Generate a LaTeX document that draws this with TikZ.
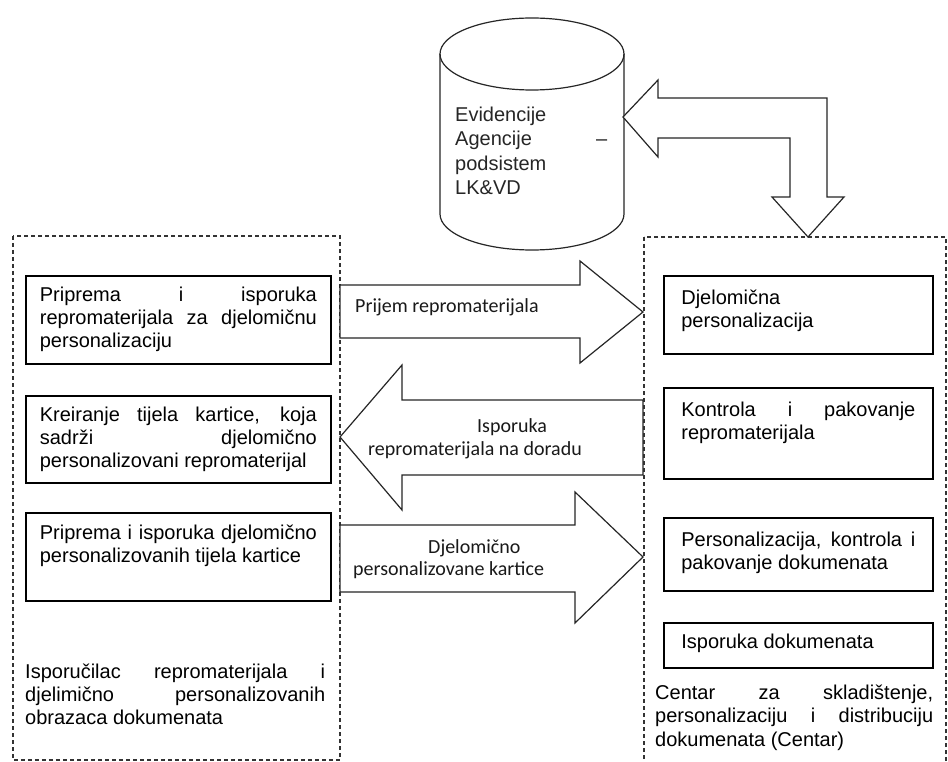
\documentclass[tikz,border=0pt]{standalone}
\usepackage{fontspec}
\setmainfont{Liberation Sans}
\newfontfamily\lblfont{Carlito}
\newcommand\tb[5]{\parbox[c][#2pt][t]{#1pt}{\hyphenpenalty=10000\exhyphenpenalty=10000\tolerance=10000\hbadness=10000\baselineskip=#3pt\relax\rule{0pt}{#4pt}#5\par}}
\begin{document}
\begin{tikzpicture}[x=1pt,y=-1pt,
  procbox/.style={draw=black, line width=1.7pt, inner sep=0pt, anchor=north west, font=\fontsize{20}{23}\selectfont},
  plaintxt/.style={inner sep=0pt, anchor=north west, font=\fontsize{20}{23}\selectfont},
  dbtxt/.style={inner sep=0pt, anchor=north west, font=\fontsize{20}{23}\selectfont, text=black!85},
  zone/.style={draw=black!80, line width=1.1pt, dash pattern=on 4pt off 3pt},
  blockarrow/.style={draw=black!85, fill=white, line width=1.2pt, line join=miter},
  cyl/.style={draw=black!85, line width=1.2pt},
  lbl/.style={inner sep=0pt, anchor=base west, font=\lblfont\fontsize{20}{22}\selectfont, text=black!90}]
\useasboundingbox (0,0) rectangle (948,762);
\fill[white] (0,0) rectangle (948,762);

% zones
\draw[zone] (13,236) rectangle (340,760);
\draw[zone] (644,237) rectangle (946,775);

% database cylinder
\draw[cyl, fill=white] (440,54) -- (440,214) arc[start angle=180, end angle=360, x radius=92pt, y radius=36pt] -- (624,54);
\draw[cyl] (532,54) ellipse [x radius=92pt, y radius=36pt];
\node[dbtxt] (db) at (455,95) {\tb{152}{110}{24.5}{26}{Evidencije\\Agencije\hfill –\\podsistem\\LK\&VD}};

% bent double arrow
\draw[blockarrow] (623,117) -- (658,80) -- (658,98) -- (827,98) -- (827,197) -- (844,197) -- (808,237) -- (772,197) -- (790,197) -- (790,138) -- (658,138) -- (658,157) -- cycle;

% left boxes
\node[procbox, minimum width=305pt, minimum height=88pt] (l1) at (25,275)
  {\tb{277}{88}{23}{26}{Priprema i isporuka\linebreak repromaterijala za djelomičnu\linebreak personalizaciju}};
\node[procbox, minimum width=305pt, minimum height=87pt] (l2) at (25,395)
  {\tb{277}{87}{23}{26}{Kreiranje tijela kartice, koja\linebreak sadrži djelomično\linebreak personalizovani repromaterijal}};
\node[procbox, minimum width=305pt, minimum height=88pt] (l3) at (25,512)
  {\tb{277}{88}{23}{27}{Priprema i isporuka djelomično\linebreak personalizovanih tijela kartice}};
\node[plaintxt] (lfoot) at (25,650)
  {\tb{300}{80}{23}{28}{Isporučilac repromaterijala i\linebreak djelimično personalizovanih\linebreak obrazaca dokumenata}};

% right boxes
\node[procbox, minimum width=269pt, minimum height=78pt] (r1) at (663,275)
  {\tb{234}{78}{23}{29}{Djelomična\linebreak personalizacija}};
\node[procbox, minimum width=269pt, minimum height=91pt] (r2) at (663,387)
  {\tb{234}{91}{23}{29}{Kontrola i pakovanje\linebreak repromaterijala}};
\node[procbox, minimum width=269pt, minimum height=73pt] (r3) at (663,517)
  {\tb{234}{73}{23}{29}{Personalizacija, kontrola i\linebreak pakovanje dokumenata}};
\node[procbox, minimum width=269pt, minimum height=45pt] (r4) at (663,622)
  {\tb{234}{45}{23}{26}{Isporuka dokumenata}};
\node[plaintxt] (rfoot) at (655,671)
  {\tb{278}{80}{23.5}{28}{Centar za skladištenje,\linebreak personalizaciju i distribuciju\linebreak dokumenata (Centar)}};

% block arrows between zones
\draw[blockarrow] (340,285) -- (580,285) -- (580,261) -- (643,312) -- (580,363) -- (580,338) -- (340,338) -- cycle;
\draw[blockarrow] (643,400) -- (402,400) -- (402,365) -- (340,437) -- (402,510) -- (402,475) -- (643,475) -- cycle;
\draw[blockarrow] (340,525) -- (575,525) -- (575,492) -- (643,557) -- (575,623) -- (575,592) -- (340,592) -- cycle;

\node[lbl] (a1) at (355,312) {Prijem repromaterijala};
\node[lbl] (a2a) at (477,432) {Isporuka};
\node[lbl] (a2b) at (368,455) {repromaterijala na doradu};
\node[lbl] (a3a) at (428,553) {Djelomično};
\node[lbl] (a3b) at (353,575) {personalizovane kartice};
\end{tikzpicture}
\end{document}
